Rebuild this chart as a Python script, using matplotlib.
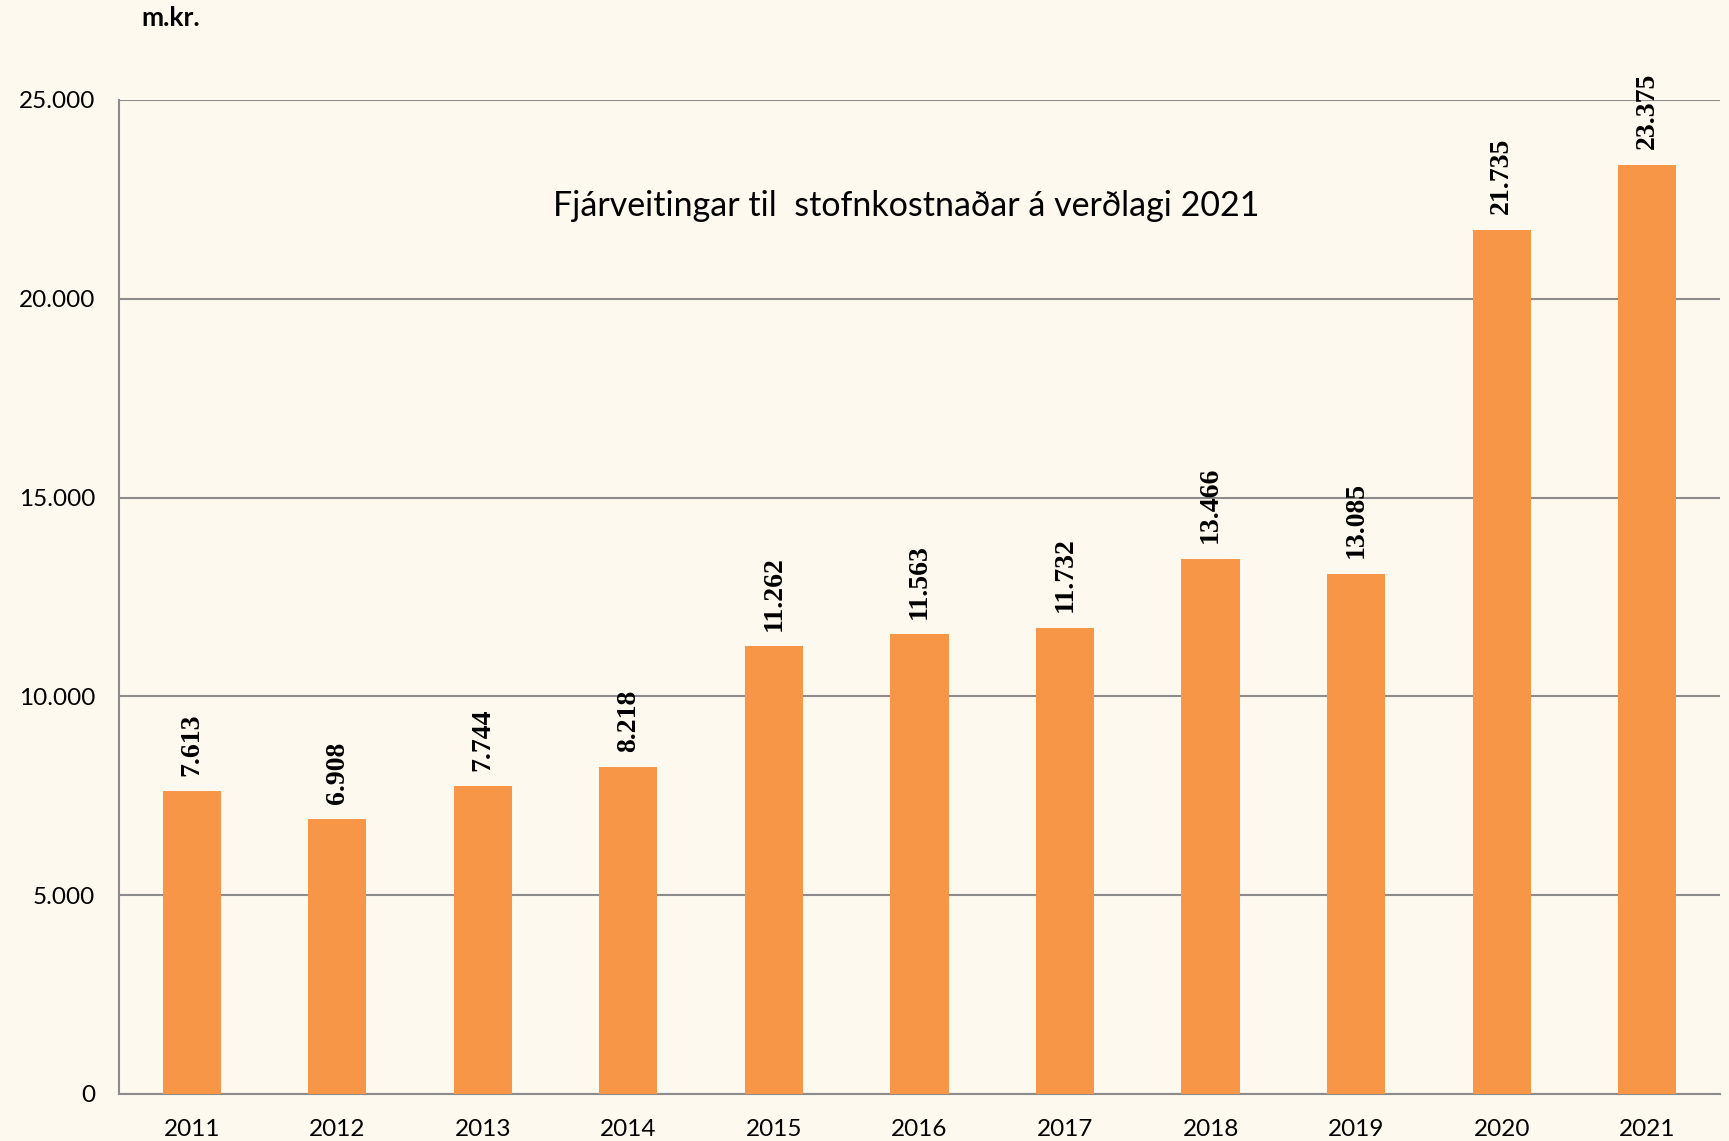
import matplotlib
matplotlib.use("Agg")
import matplotlib.pyplot as plt
from matplotlib.ticker import FuncFormatter

years = ["2011", "2012", "2013", "2014", "2015", "2016", "2017", "2018", "2019", "2020", "2021"]
values = [7613, 6908, 7744, 8218, 11262, 11563, 11732, 13466, 13085, 21735, 23375]
yticks = [0, 5000, 10000, 15000, 20000, 25000]
title = "Fjárveitingar til  stofnkostnaðar á verðlagi 2021"
unit = "m.kr."

bg = "#FEF9EE"
bar_color = "#F79646"
grid_color = "#8C8C8C"

fig = plt.figure(figsize=(17.29, 11.41), dpi=100, facecolor=bg)
ax = fig.add_axes([0.0688, 0.0412, 0.9260, 0.8712], facecolor=bg)

x = range(len(years))
ax.bar(x, values, width=0.40, color=bar_color, zorder=3)
ax.set_xlim(-0.5, len(years) - 0.5)
ax.set_ylim(0, 25000)
ax.set_yticks(yticks)
ax.yaxis.set_major_formatter(FuncFormatter(lambda v, p: f"{int(v):,}".replace(",", ".")))
ax.set_xticks(list(x))
ax.set_xticklabels(years)
ax.grid(axis="y", color=grid_color, linewidth=1.5, zorder=0)
ax.tick_params(axis="both", length=0, labelsize=17.5, colors="black")
ax.tick_params(axis="y", pad=17)
ax.tick_params(axis="x", pad=18)
for lbl in ax.get_xticklabels() + ax.get_yticklabels():
    lbl.set_fontfamily("Lato")

for s in ["top", "right"]:
    ax.spines[s].set_visible(False)
for s in ["left", "bottom"]:
    ax.spines[s].set_color(grid_color)
    ax.spines[s].set_linewidth(1.5)

for xi, v in zip(x, values):
    ax.annotate(f"{v:,}".replace(",", "."), xy=(xi, v), xytext=(0, 11),
                textcoords="offset points", rotation=90, ha="center", va="bottom",
                fontsize=20, fontweight="bold", family="Liberation Serif",
                annotation_clip=False, zorder=4)

fig.text(906 / 1729, 1 - 206 / 1141, title, ha="center", va="center",
         fontsize=24.5, family="Lato")
fig.text(141 / 1729, 1 - 18 / 1141, unit, ha="left", va="center",
         fontsize=19, fontweight="bold", family="Lato")

fig.savefig("out.png", dpi=100, facecolor=bg)
